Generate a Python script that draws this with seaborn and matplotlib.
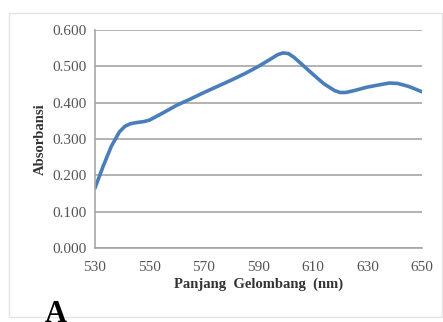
import matplotlib
matplotlib.use("Agg")
import matplotlib.pyplot as plt
from matplotlib.patches import Rectangle
import pandas as pd
import seaborn as sns

wavelength = [530, 533, 536, 539, 541, 543, 545, 548, 550, 555, 560, 565, 570, 575,
              580, 585, 590, 594, 597, 599, 601, 603, 606, 610, 614, 618, 620, 622,
              625, 630, 635, 638, 641, 645, 650]
absorbansi = [0.165, 0.225, 0.28, 0.32, 0.335, 0.342, 0.345, 0.348, 0.352, 0.372,
              0.393, 0.41, 0.428, 0.445, 0.462, 0.48, 0.50, 0.518, 0.532, 0.537,
              0.535, 0.525, 0.505, 0.478, 0.452, 0.433, 0.428, 0.428, 0.433, 0.443,
              0.45, 0.454, 0.453, 0.445, 0.43]
xticks = [530, 550, 570, 590, 610, 630, 650]
yticks = [0.0, 0.1, 0.2, 0.3, 0.4, 0.5, 0.6]

df = pd.DataFrame({"wl": wavelength, "abs": absorbansi})

sns.set_style("white")
plt.rcParams["font.family"] = ["Liberation Serif", "DejaVu Serif"]

fig = plt.figure(figsize=(4.43, 3.22), dpi=100)
fig.patches.append(Rectangle((9 / 443, 5 / 322), 433 / 443, 304 / 322,
                             transform=fig.transFigure, fill=False,
                             edgecolor="#e4e4e4", linewidth=1))
ax = fig.add_axes([0.2144, 0.2298, 0.7382, 0.677])

sns.lineplot(data=df, x="wl", y="abs", ax=ax, color="#4a7ebb", linewidth=2.6)

ax.set_xlim(530, 650)
ax.set_ylim(0, 0.6)
ax.set_xticks(xticks)
ax.set_yticks(yticks)
ax.set_yticklabels([f"{v:.3f}" for v in yticks])
ax.grid(axis="y", color="#a6a6a6", linewidth=1.2)
ax.set_axisbelow(True)
for s in ["top", "right"]:
    ax.spines[s].set_visible(False)
for s in ["left", "bottom"]:
    ax.spines[s].set_color("#a6a6a6")
    ax.spines[s].set_linewidth(1.2)
ax.tick_params(axis="both", which="both", direction="out", length=4,
               color="#a6a6a6", labelcolor="#555555", labelsize=11, width=1.2)
ax.tick_params(axis="x", pad=5)
ax.tick_params(axis="y", pad=2)
ax.set_xlabel("Panjang  Gelombang  (nm)", fontsize=10.5, fontweight="bold",
              color="#333333", labelpad=3)
ax.set_ylabel("Absorbansi", fontsize=10.5, fontweight="bold", color="#333333",
              labelpad=4)

fig.text(45 / 443, 1 - 300 / 322, "A", fontsize=22, fontweight="bold",
         va="top", ha="left", color="black")

fig.savefig("out.png", dpi=100)
